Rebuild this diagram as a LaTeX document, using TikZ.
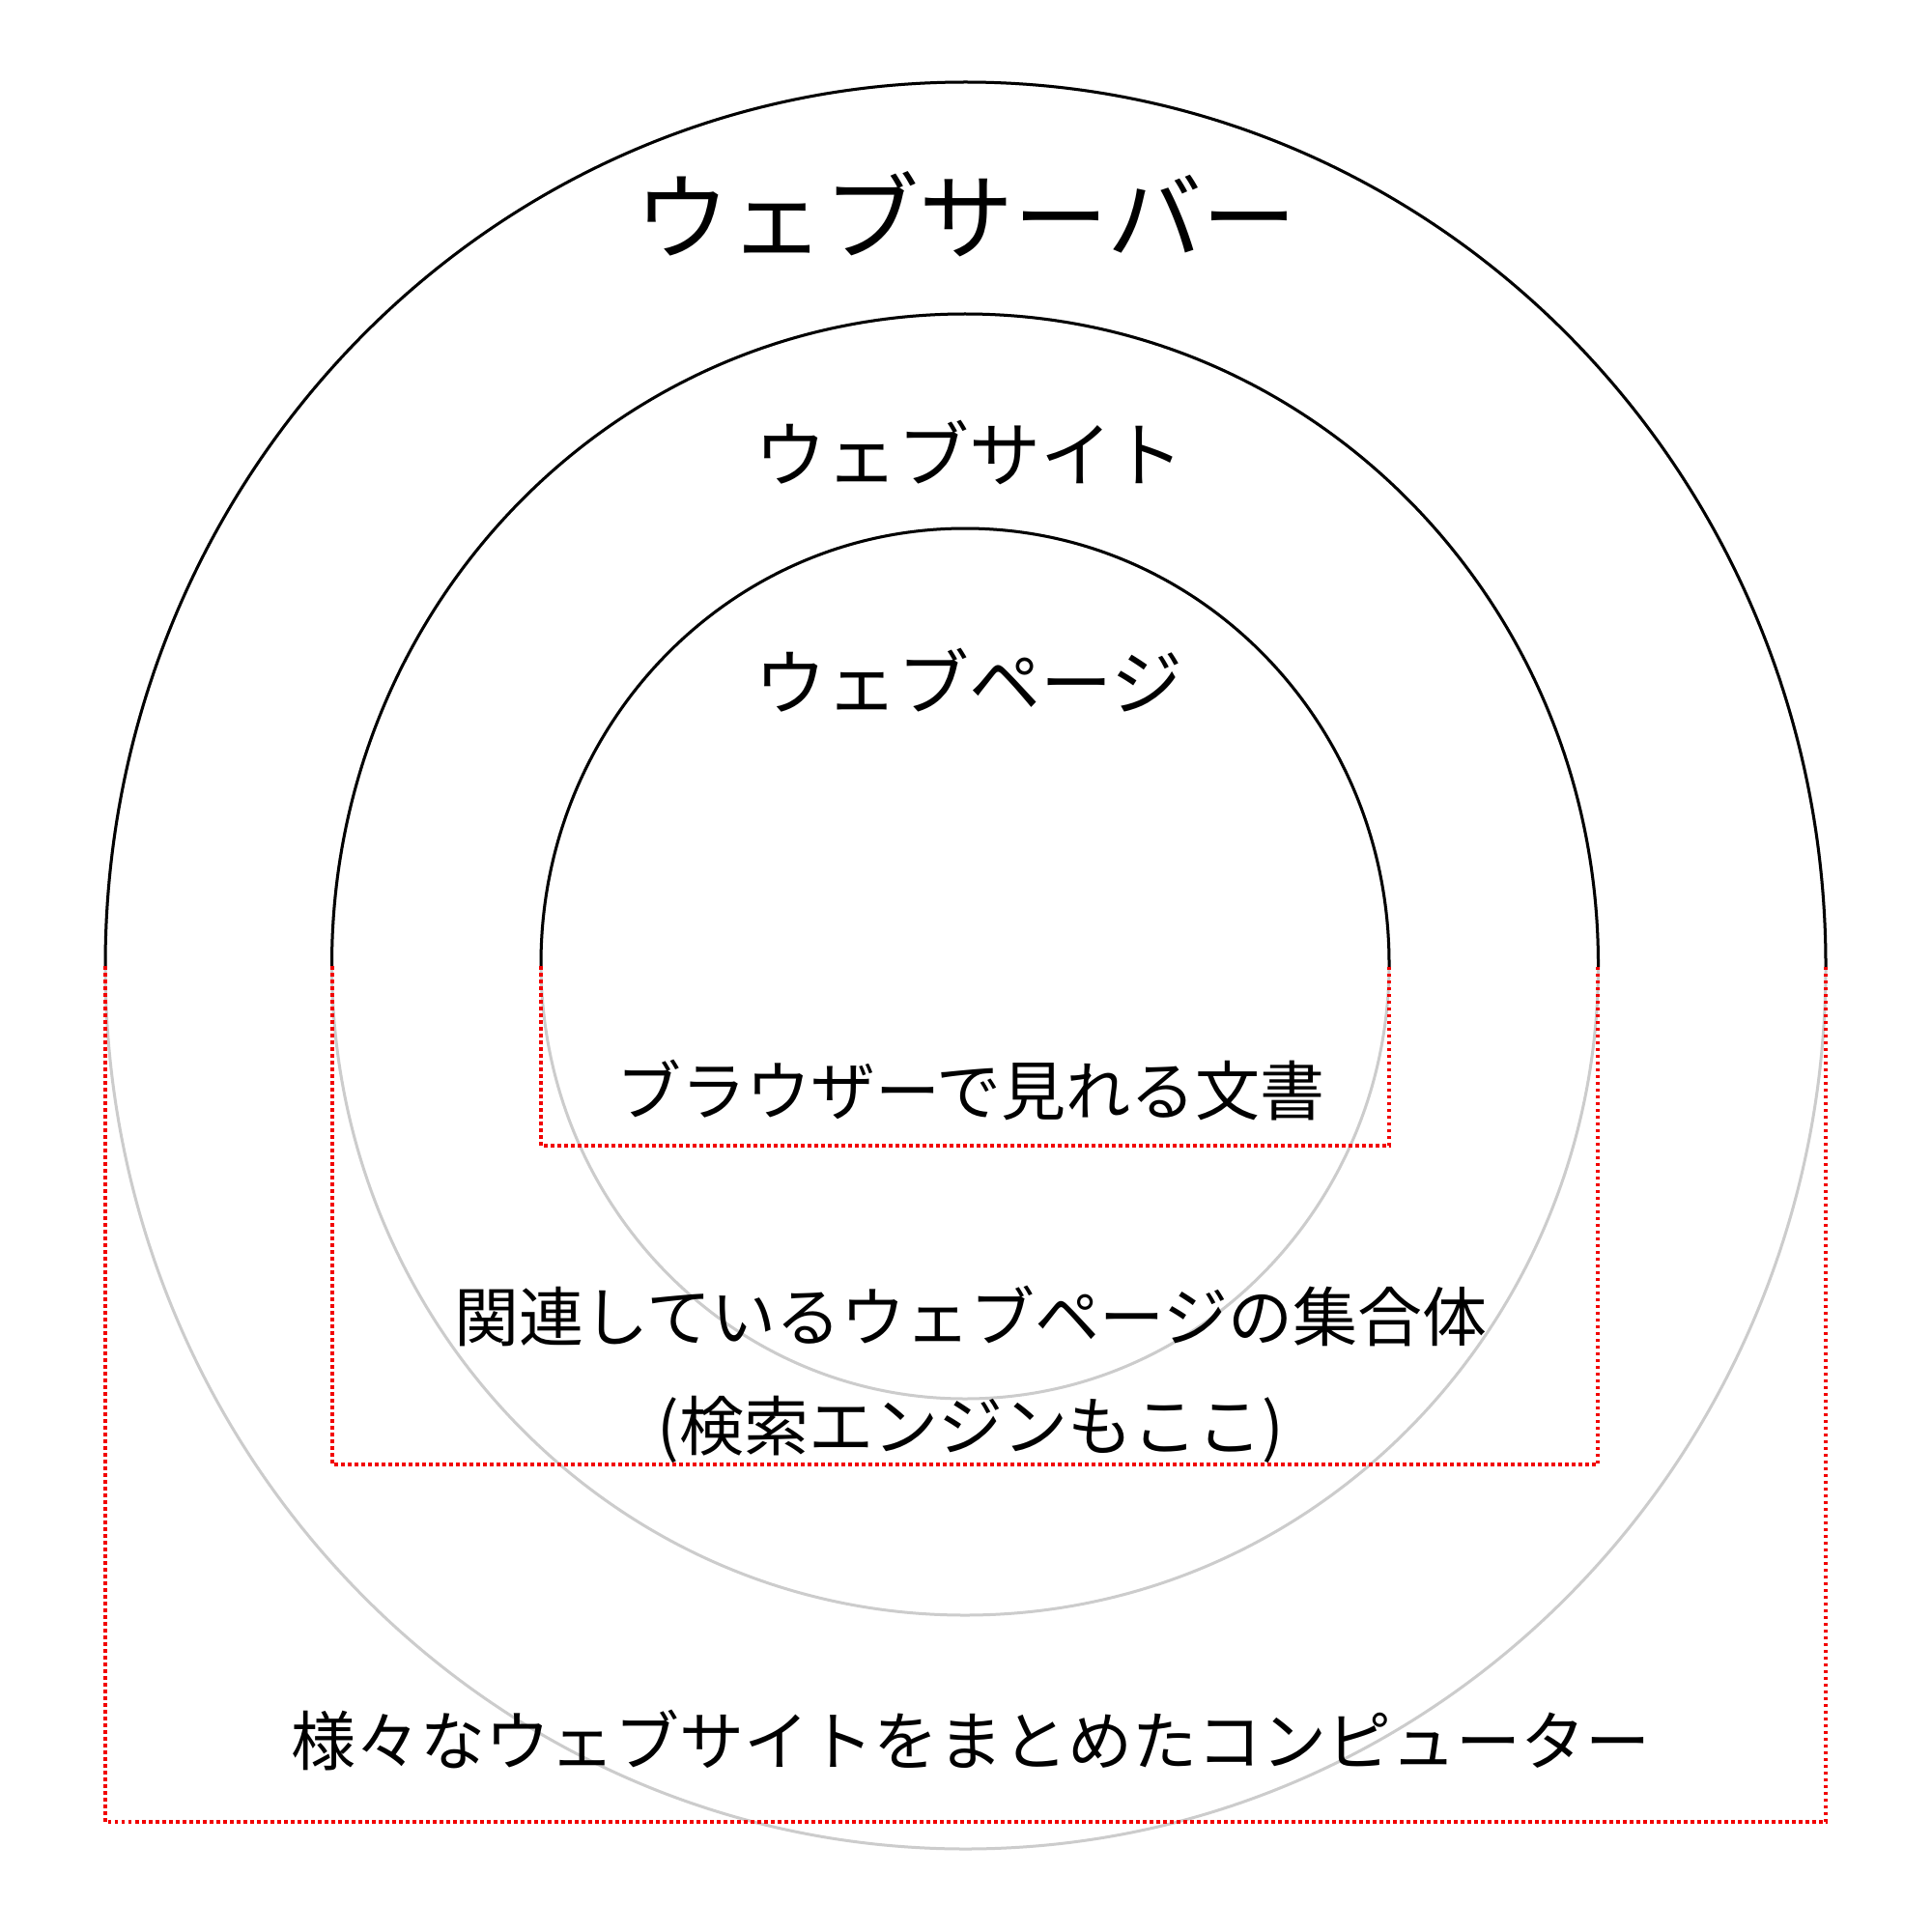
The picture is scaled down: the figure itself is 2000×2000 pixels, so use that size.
\documentclass[tikz,border=0pt]{standalone}
\usepackage{fontspec}
\setmainfont{Noto Sans CJK JP}
\begin{document}
\begin{tikzpicture}[x=0.5pt,y=-0.5pt,
  greyring/.style={draw=black!20, line width=1.5pt},
  blackarc/.style={draw=black, line width=1.5pt},
  reddot/.style={draw=red!95!black, line width=1.6pt, dash pattern=on 1.75pt off 1.75pt},
  lbl/.style={inner sep=0pt, anchor=center, text=black},
  bigtxt/.style={lbl, font=\fontsize{49pt}{58pt}\selectfont},
  midtxt/.style={lbl, font=\fontsize{37pt}{44pt}\selectfont},
  smalltxt/.style={lbl, font=\fontsize{33.5pt}{40pt}\selectfont}]
\useasboundingbox (0,0) rectangle (2000,2000);
\fill[white] (0,0) rectangle (2000,2000);
% grey full ellipses
\draw[greyring] (999.5,999.5) ellipse [x radius=890.5, y radius=914.5];
\draw[greyring] (999,998.5) ellipse [x radius=655.5, y radius=673.5];
\draw[greyring] (999,997.5) ellipse [x radius=439, y radius=450.5];
% black upper halves
\begin{scope}
  \clip (0,0) rectangle (2000,1000);
  \draw[blackarc] (999.5,999.5) ellipse [x radius=890.5, y radius=914.5];
  \draw[blackarc] (999,998.5) ellipse [x radius=655.5, y radius=673.5];
  \draw[blackarc] (999,997.5) ellipse [x radius=439, y radius=450.5];
\end{scope}
% red dotted frames
\draw[reddot] (560,1000) -- (560,1186) -- (1438,1186) -- (1438,1000);
\draw[reddot] (344,1000) -- (344,1516) -- (1654,1516) -- (1654,1000);
\draw[reddot] (109,1000) -- (109,1886) -- (1890,1886) -- (1890,1000);
% labels
\node[bigtxt] (server) at (1000,222) {ウェブサーバー};
\node[midtxt] (site) at (1003,468) {ウェブサイト};
\node[midtxt] (page) at (1003,704) {ウェブページ};
\node[smalltxt] (pagedesc) at (1005,1129) {ブラウザーで見れる文書};
\node[smalltxt] (sitedesc) at (1005,1362) {関連しているウェブページの集合体};
\node[smalltxt] (sitedesc2) at (1005,1480) {(検索エンジンもここ)};
\node[smalltxt] (serverdesc) at (1005,1802) {様々なウェブサイトをまとめたコンピューター};
\end{tikzpicture}
\end{document}
